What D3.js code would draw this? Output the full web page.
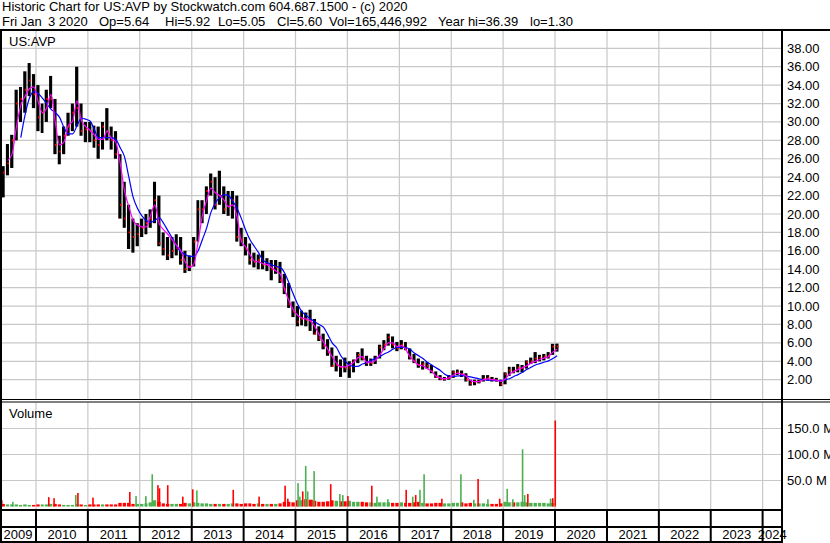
<!DOCTYPE html>
<html>
<head>
<meta charset="utf-8">
<script src="https://cdn.jsdelivr.net/npm/d3@7"></script>
<style>
  body { margin: 0; background: #fff; }
  text { font-family: "Liberation Sans", Arial, sans-serif; font-size: 13px; fill: #000; white-space: pre; }
</style>
</head>
<body>
<div id="chart"></div>
<script>
// ---- data (monthly, May 2009 .. Jan 2020) ----
var firstMonth = "2009-05-01", lastDay = "2020-01-03";

var hi = [25.2, 27.6, 28.6, 33.5, 33.8, 35.5, 36.4, 35.2,
  34.0, 32.0, 33.5, 35.0, 32.5, 28.5, 29.5, 31.0, 32.0, 36.0, 32.0, 30.0,
  30.0, 29.6, 29.5, 30.0, 31.5, 29.5, 29.0, 26.5, 23.5, 21.0, 19.5, 19.0,
  19.5, 20.0, 20.5, 23.5, 22.0, 18.0, 17.5, 17.5, 17.8, 17.5, 16.0, 15.5,
  17.5, 21.5, 21.5, 23.0, 24.4, 24.0, 24.7, 23.0, 22.5, 22.5, 22.0, 18.5,
  17.5, 16.8, 15.8, 15.6, 16.0, 15.2, 15.0, 15.0, 14.8, 13.5, 12.5, 10.5,
  10.0, 9.5, 9.3, 9.6, 8.6, 7.8, 7.0, 6.4, 5.5, 4.6, 4.2, 4.4,
  4.0, 4.2, 5.0, 5.4, 4.6, 4.3, 4.6, 5.8, 6.3, 7.0, 6.7, 6.1,
  6.3, 6.1, 5.4, 4.8, 4.3, 4.0, 3.9, 3.6, 2.9, 2.5, 2.3, 2.5,
  3.0, 3.1, 3.0, 2.7, 2.0, 2.0, 2.0, 2.5, 2.5, 2.3, 2.2, 2.0,
  2.8, 3.4, 3.4, 3.7, 3.6, 4.1, 4.4, 5.0, 4.7, 4.8, 5.0, 5.9,
  5.92];

var lo = [21.8, 24.2, 25.0, 28.0, 30.0, 31.0, 32.8, 31.5,
  29.0, 28.8, 30.0, 31.5, 26.5, 25.4, 26.5, 28.5, 29.0, 29.5, 28.5, 27.8,
  27.8, 27.2, 26.0, 27.0, 28.0, 27.0, 26.0, 19.5, 18.5, 16.2, 15.8, 16.5,
  17.5, 17.8, 18.5, 19.0, 16.5, 15.5, 15.0, 15.2, 15.5, 14.5, 13.6, 13.8,
  14.3, 17.0, 19.0, 20.0, 22.0, 20.5, 21.0, 20.0, 19.8, 19.5, 17.0, 16.5,
  15.5, 14.5, 14.2, 14.0, 14.0, 13.8, 12.8, 13.5, 12.5, 11.3, 9.8, 8.8,
  7.8, 7.9, 7.8, 7.3, 6.9, 6.2, 5.3, 4.6, 3.4, 2.9, 2.3, 2.8,
  2.2, 2.8, 3.8, 4.1, 3.5, 3.5, 3.7, 4.3, 5.2, 5.7, 5.4, 5.1,
  5.3, 5.2, 4.2, 3.8, 3.3, 3.1, 3.2, 2.7, 2.2, 1.95, 1.9, 2.0,
  2.2, 2.5, 2.3, 1.8, 1.35, 1.4, 1.6, 1.8, 1.9, 1.8, 1.8, 1.3,
  1.5, 2.4, 2.7, 2.8, 2.8, 3.2, 3.7, 3.8, 4.0, 4.1, 4.3, 4.7,
  5.05];

var cl = [24.5, 25.5, 28.0, 32.0, 32.5, 33.5, 34.5, 33.0,
  30.5, 31.0, 32.5, 32.5, 27.5, 26.8, 28.5, 29.5, 31.0, 31.5, 29.0, 29.2,
  29.0, 28.0, 27.5, 29.5, 29.0, 28.0, 26.5, 21.0, 19.5, 18.0, 17.5, 17.8,
  18.5, 19.0, 19.5, 21.5, 16.8, 16.2, 15.5, 16.0, 16.3, 15.0, 14.0, 14.3,
  17.0, 20.5, 20.5, 22.5, 23.5, 21.0, 22.0, 20.5, 20.8, 21.5, 17.5, 17.2,
  16.2, 15.0, 14.8, 15.0, 14.5, 14.5, 14.0, 14.2, 12.8, 11.8, 10.2, 9.4,
  8.3, 8.6, 8.5, 8.4, 7.0, 6.5, 5.7, 5.0, 3.5, 3.6, 3.4, 3.3,
  3.3, 4.0, 4.7, 4.3, 3.8, 3.8, 4.3, 5.5, 5.8, 6.6, 5.8, 5.4,
  5.8, 5.3, 4.4, 4.0, 3.6, 3.7, 3.5, 2.9, 2.3, 2.1, 2.1, 2.2,
  2.8, 2.8, 2.6, 2.0, 1.6, 1.8, 1.8, 2.1, 2.2, 2.0, 1.9, 1.5,
  2.6, 3.0, 2.9, 3.3, 3.3, 3.9, 4.0, 4.3, 4.4, 4.5, 4.6, 5.6,
  5.60];

// short moving average (magenta)
var maFast = [null, 25.8, 26.5, 29.5, 31.8, 32.8, 33.6, 33.8,
  32.2, 31.0, 31.5, 33.0, 30.0, 27.5, 27.8, 29.6, 30.1, 32.3, 30.2, 29.5,
  29.1, 28.6, 28.1, 28.1, 29.0, 28.2, 27.8, 25.5, 22.5, 20.8, 19.3, 18.8,
  18.6, 18.6, 19.8, 21.0, 19.0, 18.3, 17.8, 17.2, 16.6, 16.0, 14.8, 14.2,
  14.6, 17.0, 19.8, 21.5, 22.8, 22.3, 22.0, 21.5, 20.8, 21.0, 19.7, 17.0,
  16.4, 15.6, 14.9, 14.8, 14.6, 14.5, 14.2, 13.8, 13.5, 11.8, 10.6, 9.6,
  9.0, 8.7, 8.6, 8.4, 7.8, 6.9, 6.1, 5.3, 4.5, 3.8, 3.4, 3.4,
  3.6, 3.9, 4.4, 4.5, 3.9, 3.9, 4.1, 4.7, 5.4, 6.0, 6.0, 5.6,
  5.7, 5.3, 4.5, 4.0, 3.6, 3.5, 3.2, 2.9, 2.4, 2.2, 2.1, 2.2,
  2.5, 2.7, 2.6, 2.4, 1.9, 1.8, 1.8, 2.0, 2.1, 2.0, 1.95, 1.8,
  2.1, 2.6, 2.9, 3.1, 3.3, 3.5, 3.8, 4.0, 4.2, 4.35, 4.5, 5.0,
  5.3];

// long moving average (blue)
var maSlow = [null, null, null, null, 28.3, 30.8, 32.6, 33.3,
  33.1, 32.6, 32.0, 31.4, 31.0, 30.5, 29.4, 28.7, 28.7, 29.6, 30.4, 30.3,
  30.1, 29.2, 28.3, 28.3, 28.3, 28.3, 28.1, 27.2, 26.2, 24.0, 21.8, 20.6,
  19.8, 19.3, 19.1, 19.3, 19.6, 19.0, 18.2, 17.4, 16.5, 15.9, 15.6, 15.4,
  15.4, 16.0, 17.2, 18.5, 20.2, 21.2, 21.8, 22.1, 22.0, 21.4, 20.6, 19.5,
  18.2, 17.2, 16.5, 15.8, 15.0, 14.7, 14.5, 14.3, 14.2, 13.6, 12.5, 11.3,
  10.2, 9.4, 9.0, 8.6, 8.3, 8.0, 7.7, 6.9, 6.0, 5.5, 4.6, 4.0,
  3.6, 3.45, 3.45, 3.7, 3.85, 4.1, 4.3, 4.5, 4.8, 5.0, 5.3, 5.5,
  5.5, 5.5, 5.3, 4.9, 4.6, 4.3, 3.9, 3.6, 3.3, 3.0, 2.6, 2.4,
  2.35, 2.4, 2.45, 2.4, 2.3, 2.2, 2.1, 2.0, 1.95, 1.95, 1.9, 1.9,
  2.0, 2.1, 2.35, 2.55, 2.8, 3.1, 3.35, 3.6, 3.75, 3.9, 4.05, 4.3,
  4.6];

// typical daily volume per month (millions)
var volBase = [5, 4, 4, 4, 3, 4, 3, 3,
  4, 4, 4, 5, 5, 4, 3, 3, 3, 5, 4, 3,
  4, 4, 4, 4, 4, 4, 4, 7, 7, 7, 5, 5,
  5, 6, 8, 12, 9, 6, 5, 5, 5, 5, 7, 6,
  8, 7, 6, 6, 5, 5, 5, 5, 5, 6, 6, 5,
  6, 6, 5, 6, 5, 5, 5, 5, 6, 9, 9, 8,
  12, 12, 14, 13, 11, 9, 9, 10, 12, 11, 10, 10,
  11, 9, 9, 9, 8, 8, 7, 8, 8, 8, 7, 7,
  8, 7, 7, 8, 9, 7, 6, 6, 7, 7, 6, 6,
  7, 7, 8, 6, 7, 6, 6, 6, 5, 5, 5, 6,
  9, 8, 8, 8, 9, 8, 7, 7, 7, 7, 6, 7,
  0];

// heavy volume days
var spikeDates = ["2009-05-05", "2009-07-22", "2010-04-01", "2010-05-08", "2010-10-08", "2010-10-23",
  "2011-02-06", "2011-10-23", "2011-12-06", "2012-02-13", "2012-03-29", "2012-05-08", "2012-05-19",
  "2012-07-16", "2012-10-30", "2013-01-08", "2013-02-06", "2013-10-20", "2014-04-20", "2014-10-20",
  "2014-11-08", "2015-01-19", "2015-02-01", "2015-02-21", "2015-03-14", "2015-03-28", "2015-04-27",
  "2015-05-12", "2015-09-06", "2015-11-09", "2015-11-30", "2016-01-05", "2016-06-21", "2016-07-27",
  "2016-10-12", "2017-02-18", "2017-04-05", "2017-04-26", "2017-05-26", "2017-06-24", "2017-10-27",
  "2018-03-10", "2018-06-09", "2018-07-09", "2018-09-16", "2018-12-08", "2019-01-30", "2019-03-10",
  "2019-05-18", "2019-06-02", "2019-06-24", "2019-12-01", "2019-12-16", "2020-01-03"];
var spikeVols = [12, 9, 18, 16, 22, 26,
  17, 28, 20, 20, 62, 41, 35,
  41, 19, 33, 31, 32, 19, 40,
  15, 45, 19, 29, 78, 29, 13,
  68, 43, 24, 22, 20, 40, 19,
  14, 32, 19, 22, 32, 62, 15,
  62, 13, 53, 14, 15, 34, 14,
  110, 22, 24, 15, 16, 165.4];
var spikeUp = [0, 1, 0, 0, 1, 0,
  0, 0, 1, 1, 1, 0, 0,
  0, 0, 0, 1, 0, 0, 0,
  0, 1, 1, 0, 1, 1, 0,
  1, 0, 1, 1, 0, 0, 1,
  1, 0, 1, 0, 1, 1, 0,
  1, 1, 0, 1, 0, 1, 1,
  1, 1, 0, 1, 0, 0];

var priceTicks = [2, 4, 6, 8, 10, 12, 14, 16, 18, 20, 22, 24, 26, 28, 30, 32, 34, 36, 38];
var volTicks = [50, 100, 150];
var years = [2009, 2010, 2011, 2012, 2013, 2014, 2015, 2016, 2017, 2018, 2019, 2020, 2021, 2022, 2023, 2024];

var header1 = "Historic Chart for US:AVP by Stockwatch.com 604.687.1500 - (c) 2020";
var header2 = ["Fri Jan", "3 2020", "Op=5.64", "Hi=5.92", "Lo=5.05", "Cl=5.60",
  "Vol=165,446,992", "Year hi=36.39", "lo=1.30"];
var header2X = [2, 48, 99, 165, 218, 277, 329, 438, 530];

// ---- layout ----
var width = 830, height = 543;
var plotL = 2, plotR = 782;
var priceTop = 31, priceBot = 399;
var volTop = 402.5, volBot = 509;

var parse = d3.timeParse("%Y-%m-%d");
var months = d3.timeMonth.range(parse(firstMonth), d3.timeMonth.offset(parse(lastDay), 1));
var endDay = parse(lastDay);

var x = d3.scaleTime()
  .domain([new Date(2010, 0, 1), new Date(2024, 0, 1)])
  .range([36, 762.6]);
var y = d3.scaleLinear().domain([2, 38]).range([379.7, 48.3]);
var yv = d3.scaleLinear().domain([0, 150]).range([506.5, 428.5]);

var data = months.map(function(m, i) {
  var x0 = x(m);
  var x1 = i < months.length - 1 ? x(months[i + 1]) : x(endDay) + 1.5;
  return { x0: x0, x1: x1, xm: (x0 + x1) / 2, hi: hi[i], lo: lo[i], cl: cl[i],
    fast: maFast[i], slow: maSlow[i], vol: volBase[i],
    up: i == 0 ? false : cl[i] >= cl[i - 1] };
});

var svg = d3.select("#chart").append("svg")
  .attr("width", width)
  .attr("height", height);

svg.append("rect").attr("width", width).attr("height", height).attr("fill", "#fff");

var defs = svg.append("defs");
defs.append("clipPath").attr("id", "clipPrice").append("rect")
  .attr("x", plotL).attr("y", priceTop).attr("width", plotR - plotL).attr("height", priceBot - priceTop);
defs.append("clipPath").attr("id", "clipVol").append("rect")
  .attr("x", plotL).attr("y", volTop).attr("width", plotR - plotL).attr("height", volBot - volTop);

var gridColor = "#c8c8c8";
var yearLines = years.slice(1).map(function(yr) { return x(new Date(yr, 0, 1)); });

// grid
var grid = svg.append("g").attr("stroke", gridColor).attr("stroke-width", 1.2);
grid.selectAll(".vp").data(yearLines).enter().append("line")
  .attr("x1", function(d) { return d; }).attr("x2", function(d) { return d; })
  .attr("y1", priceTop).attr("y2", priceBot);
grid.selectAll(".vv").data(yearLines).enter().append("line")
  .attr("x1", function(d) { return d; }).attr("x2", function(d) { return d; })
  .attr("y1", volTop).attr("y2", volBot);
grid.selectAll(".hp").data(priceTicks).enter().append("line")
  .attr("x1", plotL).attr("x2", plotR)
  .attr("y1", function(d) { return y(d); }).attr("y2", function(d) { return y(d); });
grid.selectAll(".hv").data(volTicks).enter().append("line")
  .attr("x1", plotL).attr("x2", plotR)
  .attr("y1", function(d) { return yv(d); }).attr("y2", function(d) { return yv(d); });

// price bars
var price = svg.append("g").attr("clip-path", "url(#clipPrice)");
price.selectAll(".bar").data(data).enter().append("rect")
  .attr("x", function(d) { return d.x0 + 0.3; })
  .attr("width", function(d) { return Math.max(1.6, d.x1 - d.x0 - 1.2); })
  .attr("y", function(d) { return y(d.hi); })
  .attr("height", function(d) { return y(d.lo) - y(d.hi); })
  .attr("fill", "#000");
price.selectAll(".tick").data(data).enter().append("rect")
  .attr("x", function(d) { return Math.max(d.x0 + 0.3, d.x1 - 2.4); })
  .attr("width", 1.6)
  .attr("y", function(d) { return y(d.cl) - 1; })
  .attr("height", 2)
  .attr("fill", "#ff0000");

var line = function(key) {
  return d3.line()
    .defined(function(d) { return d[key] != null; })
    .x(function(d) { return d.xm; })
    .y(function(d) { return y(d[key]); })
    .curve(d3.curveMonotoneX);
};
price.append("path").datum(data).attr("d", line("slow"))
  .attr("fill", "none").attr("stroke", "#0000ff").attr("stroke-width", 1.2);
price.append("path").datum(data).attr("d", line("fast"))
  .attr("fill", "none").attr("stroke", "#ff00ff").attr("stroke-width", 1.2);

// volume
var vol = svg.append("g").attr("clip-path", "url(#clipVol)");
vol.selectAll(".vb").data(data).enter().append("rect")
  .attr("x", function(d) { return d.x0 + 0.3; })
  .attr("width", function(d) { return Math.max(0.5, d.x1 - d.x0 - 1.0); })
  .attr("y", function(d) { return yv(d.vol); })
  .attr("height", function(d) { return yv(0) - yv(d.vol); })
  .attr("fill", function(d) { return d.up ? "#4cb050" : "#ff0000"; });
vol.selectAll(".vs").data(spikeDates).enter().append("rect")
  .attr("x", function(d) { return x(parse(d)) - 0.8; })
  .attr("width", 1.6)
  .attr("y", function(d, i) { return yv(spikeVols[i]); })
  .attr("height", function(d, i) { return yv(0) - yv(spikeVols[i]); })
  .attr("fill", function(d, i) { return spikeUp[i] ? "#4cb050" : "#ff0000"; });

// frame
var frame = svg.append("g").attr("stroke", "#000");
frame.append("line").attr("x1", 0).attr("x2", width).attr("y1", 30).attr("y2", 30).attr("stroke-width", 2);
frame.append("line").attr("x1", 1).attr("x2", 1).attr("y1", 30).attr("y2", height).attr("stroke-width", 2);
frame.append("line").attr("x1", plotR).attr("x2", plotR).attr("y1", 30).attr("y2", height).attr("stroke-width", 2);
frame.append("line").attr("x1", 0).attr("x2", width).attr("y1", 399.5).attr("y2", 399.5).attr("stroke-width", 1);
frame.append("line").attr("x1", 0).attr("x2", width).attr("y1", 402).attr("y2", 402).attr("stroke-width", 1);
frame.append("line").attr("x1", 0).attr("x2", plotR).attr("y1", 510).attr("y2", 510).attr("stroke-width", 2);
frame.append("line").attr("x1", 0).attr("x2", plotR).attr("y1", 527).attr("y2", 527).attr("stroke-width", 2);
frame.append("line").attr("x1", 0).attr("x2", plotR).attr("y1", 542).attr("y2", 542).attr("stroke-width", 2);
frame.selectAll(".div").data(yearLines).enter().append("line")
  .attr("x1", function(d) { return d; }).attr("x2", function(d) { return d; })
  .attr("y1", 510).attr("y2", 542).attr("stroke-width", 2);

// labels
svg.append("text").attr("x", 2).attr("y", 11).text(header1);
svg.selectAll(".h2").data(header2).enter().append("text")
  .attr("x", function(d, i) { return header2X[i]; })
  .attr("y", 26)
  .text(function(d) { return d; });
svg.append("text").attr("x", 9).attr("y", 46).text("US:AVP");
svg.append("text").attr("x", 9).attr("y", 418).text("Volume");

svg.selectAll(".pl").data(priceTicks).enter().append("text")
  .attr("x", 787).attr("y", function(d) { return y(d); }).attr("dy", "0.35em")
  .text(function(d) { return d3.format(".2f")(d); });
svg.selectAll(".vl").data(volTicks).enter().append("text")
  .attr("x", 787).attr("y", function(d) { return yv(d); }).attr("dy", "0.35em")
  .text(function(d) { return d3.format(".1f")(d) + " M"; });

svg.selectAll(".yl").data(years).enter().append("text")
  .attr("x", function(yr) {
    var a = Math.max(0, x(new Date(yr, 0, 1)));
    var b = Math.min(plotR, x(new Date(yr + 1, 0, 1)));
    return (a + b) / 2;
  })
  .attr("y", 539)
  .attr("text-anchor", "middle")
  .text(function(d) { return d; });
</script>
</body>
</html>
